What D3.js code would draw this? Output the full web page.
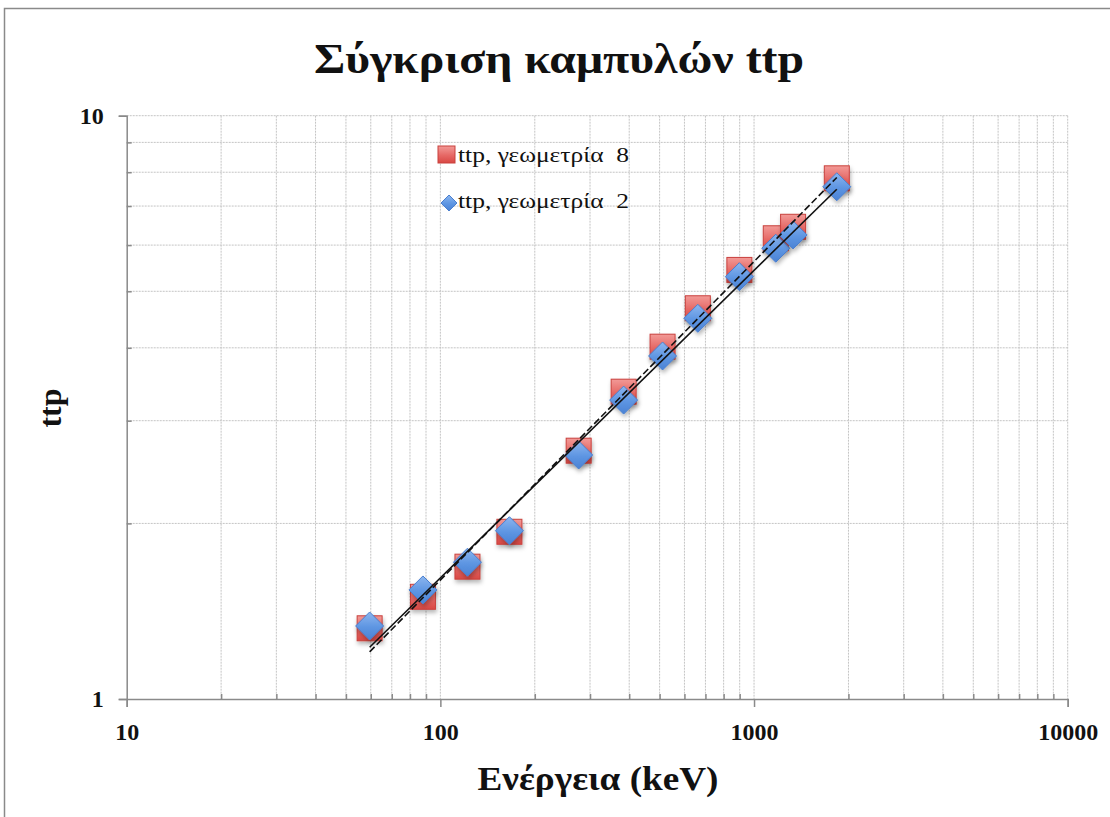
<!DOCTYPE html>
<html>
<head>
<meta charset="utf-8">
<script src="https://cdn.jsdelivr.net/npm/d3@7"></script>
<style>
  html, body { margin: 0; padding: 0; background: #fff; }
  svg { display: block; }
  text { font-family: "Liberation Serif", "Times New Roman", serif; }
</style>
</head>
<body>
<svg id="chart" width="1110" height="817"></svg>
<script>
// Gamma energies (keV) of the calibration lines
const energies = [59.5, 88, 122, 166, 276, 384, 511, 662, 898, 1173, 1332, 1836];
// ttp for geometry 8 and geometry 2
const ttpGeom8 = [1.322, 1.497, 1.686, 1.935, 2.665, 3.364, 4.018, 4.676, 5.44, 6.164, 6.45, 7.81];
const ttpGeom2 = [1.334, 1.538, 1.716, 1.943, 2.62, 3.254, 3.873, 4.494, 5.297, 5.926, 6.245, 7.555];
const seriesNames = ["ttp, γεωμετρία  8", "ttp, γεωμετρία  2"];
const xTicks = [10, 100, 1000, 10000];
const yTicks = [1, 10];

const svg = d3.select("#chart");
const W = 1110, H = 817;
const plot = { left: 126.7, right: 1067.7, top: 115.7, bottom: 699 };

const x = d3.scaleLog().domain([10, 10000]).range([plot.left, plot.right]);
const y = d3.scaleLog().domain([1, 10]).range([plot.bottom, plot.top]);

// Outer chart frame
svg.append("rect").attr("x", 4.5).attr("y", 8.5).attr("width", W + 20).attr("height", H + 20)
  .attr("fill", "#fff").attr("stroke", "#8a8a8a").attr("stroke-width", 1.5);

const defs = svg.append("defs");
const gRed = defs.append("linearGradient").attr("id", "gRed").attr("x1", 0).attr("y1", 0).attr("x2", 0).attr("y2", 1);
gRed.append("stop").attr("offset", "0%").attr("stop-color", "#f29a97");
gRed.append("stop").attr("offset", "55%").attr("stop-color", "#e66865");
gRed.append("stop").attr("offset", "100%").attr("stop-color", "#d94844");
const gBlue = defs.append("linearGradient").attr("id", "gBlue").attr("x1", 0).attr("y1", 0).attr("x2", 0).attr("y2", 1);
gBlue.append("stop").attr("offset", "0%").attr("stop-color", "#8cb6ef");
gBlue.append("stop").attr("offset", "55%").attr("stop-color", "#5d95e2");
gBlue.append("stop").attr("offset", "100%").attr("stop-color", "#4a82d4");
const shadow = defs.append("filter").attr("id", "shadow").attr("x", "-50%").attr("y", "-50%").attr("width", "200%").attr("height", "200%");
shadow.append("feDropShadow").attr("dx", 1).attr("dy", 3).attr("stdDeviation", 2.2)
  .attr("flood-color", "#000").attr("flood-opacity", 0.28);

// Grid: major and minor decades
const xGrid = [];
for (let d = 10; d < 10000; d *= 10) for (let k = 1; k <= 9; k++) xGrid.push(d * k);
xGrid.push(10000);
const yGrid = [];
for (let k = 1; k <= 10; k++) yGrid.push(k);

const grid = svg.append("g");
grid.selectAll("line.vx").data(xGrid.filter(v => v > 10)).enter().append("line")
  .attr("x1", d => x(d)).attr("x2", d => x(d)).attr("y1", plot.top).attr("y2", plot.bottom)
  .attr("stroke", "#c4c4c4").attr("stroke-width", 1).attr("stroke-dasharray", "2,1");
grid.selectAll("line.hy").data(yGrid.filter(v => v > 1)).enter().append("line")
  .attr("y1", d => y(d)).attr("y2", d => y(d)).attr("x1", plot.left).attr("x2", plot.right)
  .attr("stroke", "#c4c4c4").attr("stroke-width", 1).attr("stroke-dasharray", "2,1");

// Axes
const axisColor = "#8a8a8a";
const xAxis = svg.append("g").attr("transform", `translate(0,${plot.bottom})`)
  .call(d3.axisBottom(x).tickValues(xTicks).tickSize(8).tickFormat(d3.format("d")));
const xMinor = svg.append("g").attr("transform", `translate(0,${plot.bottom})`)
  .call(d3.axisTop(x).tickValues(xGrid.filter(v => !xTicks.includes(v))).tickSize(5).tickFormat(""));
const yAxis = svg.append("g").attr("transform", `translate(${plot.left},0)`)
  .call(d3.axisLeft(y).tickValues(yTicks).tickSize(8).tickFormat(d3.format("d")));
const yMinor = svg.append("g").attr("transform", `translate(${plot.left},0)`)
  .call(d3.axisRight(y).tickValues(yGrid.filter(v => !yTicks.includes(v))).tickSize(5).tickFormat(""));

[xAxis, xMinor, yAxis, yMinor].forEach(g => {
  g.select(".domain").attr("stroke", axisColor).attr("stroke-width", 1.5);
  g.selectAll(".tick line").attr("stroke", axisColor).attr("stroke-width", 1.5);
});
xMinor.select(".domain").remove();
yMinor.select(".domain").remove();
xAxis.selectAll(".tick text").attr("font-family", "Liberation Serif").attr("font-weight", "bold")
  .attr("font-size", 24).attr("fill", "#111").attr("dy", 0).attr("y", 41);
yAxis.selectAll(".tick text").attr("font-family", "Liberation Serif").attr("font-weight", "bold")
  .attr("font-size", 24).attr("fill", "#111").attr("x", -23).attr("dy", "0.33em");

// Power-law trendlines (least squares in log-log space)
function powerFit(xs, ys) {
  const lx = xs.map(Math.log), ly = ys.map(Math.log);
  const n = xs.length;
  const mx = d3.mean(lx), my = d3.mean(ly);
  let sxy = 0, sxx = 0;
  for (let i = 0; i < n; i++) { sxy += (lx[i] - mx) * (ly[i] - my); sxx += (lx[i] - mx) ** 2; }
  const b = sxy / sxx, a = Math.exp(my - b * mx);
  return v => a * Math.pow(v, b);
}
const xExt = d3.extent(energies);
const fit8 = powerFit(energies, ttpGeom8);
const fit2 = powerFit(energies, ttpGeom2);

// Markers: geometry 8 squares, geometry 2 diamonds
const pts = energies.map((e, i) => ({ e, a: ttpGeom8[i], b: ttpGeom2[i] }));
const sq = 25;
svg.append("g").selectAll("rect").data(pts).enter().append("rect")
  .attr("x", d => x(d.e) - sq / 2).attr("y", d => y(d.a) - sq / 2)
  .attr("width", sq).attr("height", sq)
  .attr("fill", "url(#gRed)").attr("stroke", "#c9413d").attr("stroke-width", 1)
  .attr("filter", "url(#shadow)");
const dm = 14;
svg.append("g").selectAll("path").data(pts).enter().append("path")
  .attr("d", `M0,${-dm}L${dm},0L0,${dm}L${-dm},0Z`)
  .attr("transform", d => `translate(${x(d.e)},${y(d.b)})`)
  .attr("fill", "url(#gBlue)").attr("stroke", "#4a7fcf").attr("stroke-width", 1)
  .attr("filter", "url(#shadow)");

const line = d3.line().x(d => x(d[0])).y(d => y(d[1]));
svg.append("path").attr("d", line(xExt.map(v => [v, fit8(v)])))
  .attr("fill", "none").attr("stroke", "#111").attr("stroke-width", 1.6).attr("stroke-dasharray", "7,3");
svg.append("path").attr("d", line(xExt.map(v => [v, fit2(v)])))
  .attr("fill", "none").attr("stroke", "#111").attr("stroke-width", 1.6);

// Legend
const legend = svg.append("g");
legend.append("rect").attr("x", 438).attr("y", 146).attr("width", 17).attr("height", 17)
  .attr("fill", "url(#gRed)").attr("stroke", "#c9413d").attr("stroke-width", 1);
legend.append("path").attr("d", "M0,-8L8,0L0,8L-8,0Z").attr("transform", "translate(449,203)")
  .attr("fill", "url(#gBlue)").attr("stroke", "#4a7fcf").attr("stroke-width", 1);
legend.selectAll("text").data(seriesNames).enter().append("text")
  .attr("x", 458).attr("y", (d, i) => 162 + i * 46)
  .attr("font-size", 21).attr("fill", "#111").style("white-space", "pre")
  .attr("textLength", 171).attr("lengthAdjust", "spacingAndGlyphs")
  .text(d => d);

// Titles
svg.append("text").attr("x", 559).attr("y", 73).attr("text-anchor", "middle")
  .attr("font-size", 43).attr("font-weight", "bold").attr("fill", "#111")
  .attr("textLength", 490).attr("lengthAdjust", "spacingAndGlyphs")
  .text("Σύγκριση καμπυλών ttp");
svg.append("text").attr("x", 598).attr("y", 790).attr("text-anchor", "middle")
  .attr("font-size", 33).attr("font-weight", "bold").attr("fill", "#111")
  .attr("textLength", 241).attr("lengthAdjust", "spacingAndGlyphs")
  .text("Ενέργεια (keV)");
svg.append("text").attr("transform", "translate(61,408) rotate(-90)").attr("text-anchor", "middle")
  .attr("font-size", 32).attr("font-weight", "bold").attr("fill", "#111")
  .text("ttp");
</script>
</body>
</html>
